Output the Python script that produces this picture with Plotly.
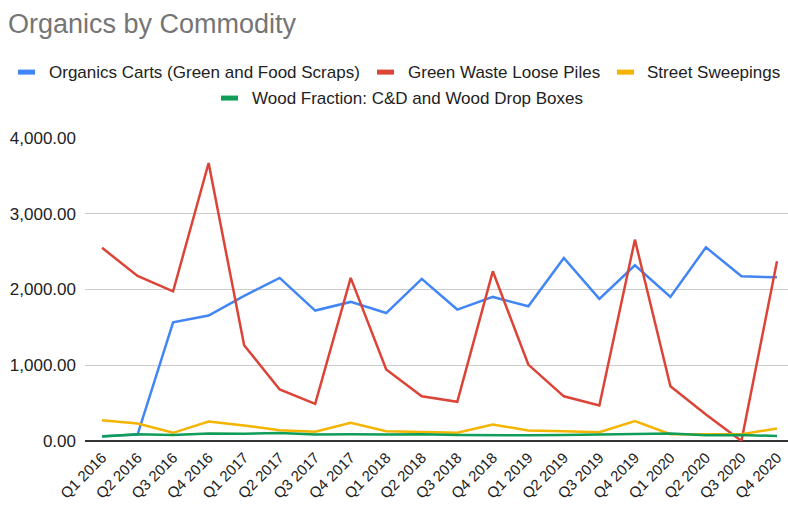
import plotly.graph_objects as go

# Quarterly tonnage by organics commodity
quarters = [
    "Q1 2016", "Q2 2016", "Q3 2016", "Q4 2016",
    "Q1 2017", "Q2 2017", "Q3 2017", "Q4 2017",
    "Q1 2018", "Q2 2018", "Q3 2018", "Q4 2018",
    "Q1 2019", "Q2 2019", "Q3 2019", "Q4 2019",
    "Q1 2020", "Q2 2020", "Q3 2020", "Q4 2020",
]
organics_carts = [63, 85, 1567, 1656, 1915, 2153, 1722, 1836, 1689, 2140,
                  1735, 1902, 1778, 2416, 1876, 2320, 1902, 2557, 2174, 2161]
green_waste = [2550, 2180, 1975, 3670, 1265, 680, 490, 2153, 943, 590,
               517, 2240, 1009, 590, 468, 2658, 723, 350, 0, 2372]
street_sweepings = [275, 231, 108, 257, 204, 143, 121, 240, 130, 120,
                    108, 218, 138, 130, 116, 262, 90, 90, 90, 165]
wood_fraction = [60, 90, 80, 100, 95, 105, 85, 90, 85, 90,
                 80, 75, 75, 80, 85, 90, 100, 75, 80, 65]

series_names = [
    "Organics Carts (Green and Food Scraps)",
    "Green Waste Loose Piles",
    "Street Sweepings",
    "Wood Fraction: C&D and Wood Drop Boxes",
]
series_values = [organics_carts, green_waste, street_sweepings, wood_fraction]
series_colors = ["#4285F4", "#DB4437", "#F4B400", "#0F9D58"]

W, H = 788, 510
M_L, M_R, M_T, M_B = 85, 0, 138, 68.5
PLOT_W = W - M_L - M_R
PLOT_H = H - M_T - M_B

FONT = "Liberation Sans, Arial, sans-serif"

fig = go.Figure()
for name, vals, color in zip(series_names, series_values, series_colors):
    fig.add_trace(go.Scatter(
        x=quarters, y=vals, name=name, mode="lines",
        line=dict(color=color, width=2.5),
        showlegend=False,
    ))


def px_x(x):
    return (x - M_L) / PLOT_W


def px_y(y):
    return (H - M_B - y) / PLOT_H


# Legend built from swatches and labels, laid out in two centred rows
legend_items = [
    (0, 18, 47, 72),
    (1, 377, 406, 72),
    (2, 617, 645, 72),
    (3, 221, 250, 98),
]
shapes = []
annotations = []
for idx, sx, tx, ly in legend_items:
    shapes.append(dict(
        type="line", xref="paper", yref="paper",
        x0=px_x(sx), x1=px_x(sx + 17), y0=px_y(ly), y1=px_y(ly),
        line=dict(color=series_colors[idx], width=5),
    ))
    annotations.append(dict(
        xref="paper", yref="paper", x=px_x(tx), y=px_y(ly),
        xanchor="left", yanchor="middle", showarrow=False,
        text=series_names[idx].replace("&", "&amp;"),
        font=dict(family=FONT, size=17, color="#222222"),
    ))

fig.update_layout(
    width=W, height=H,
    margin=dict(l=M_L, r=M_R, t=M_T, b=M_B, pad=0),
    paper_bgcolor="white", plot_bgcolor="white",
    title=dict(
        text="Organics by Commodity",
        x=8 / W, xanchor="left", y=1 - 24 / H, yanchor="middle",
        font=dict(family=FONT, size=27, color="#757575"),
    ),
    shapes=shapes,
    annotations=annotations,
    hovermode=False,
    xaxis=dict(
        type="category",
        range=[-0.48, 19.31],
        showgrid=False, zeroline=False, showline=False,
        ticks="", tickangle=-45, ticklabelstandoff=4,
        tickfont=dict(family=FONT, size=15, color="#222222"),
    ),
    yaxis=dict(
        range=[0, 4000], dtick=1000, tickformat=",.2f",
        showgrid=True, gridcolor="#cccccc", gridwidth=1,
        zeroline=True, zerolinecolor="#333333", zerolinewidth=1.5,
        showline=False, ticks="", ticklabelstandoff=8,
        tickfont=dict(family=FONT, size=17, color="#222222"),
    ),
)

fig.write_html("out.html", config=dict(displayModeBar=False, staticPlot=True))
